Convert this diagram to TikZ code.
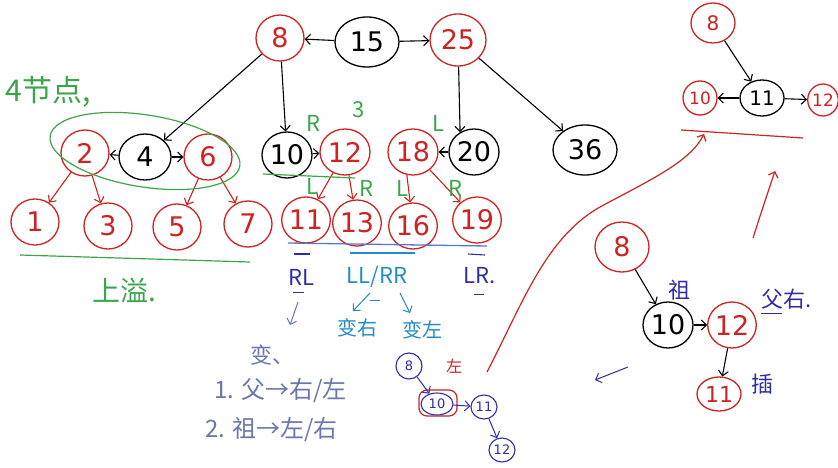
\documentclass[tikz,border=0pt]{standalone}
\usepackage{fontspec}
\setmainfont{DejaVu Sans}
\newfontfamily\cjk{Noto Sans CJK SC}
\usetikzlibrary{shapes.geometric,arrows.meta}
\definecolor{hred}{RGB}{205,35,35}
\definecolor{hgreen}{RGB}{60,165,75}
\definecolor{hblue}{RGB}{45,45,165}
\definecolor{hlblue}{RGB}{35,140,200}
\definecolor{hgray}{RGB}{105,120,170}
\definecolor{hline}{RGB}{90,120,190}
\begin{document}
\begin{tikzpicture}[x=1pt,y=-1pt,
  nd/.style={ellipse, line width=1.3pt, inner sep=0pt, minimum width=48pt, minimum height=46pt, font=\fontsize{27}{27}\selectfont},
  rn/.style={nd, draw=hred, text=hred},
  bn/.style={nd, draw=black, text=black},
  sn/.style={ellipse, draw=hblue, text=hblue, line width=1.1pt, inner sep=0pt, minimum width=26pt, minimum height=24pt, font=\fontsize{13}{13}\selectfont},
  arr/.style={-{Straight Barb[length=5pt,width=10pt]}, line width=1.1pt},
  lbl/.style={inner sep=0pt, font=\cjk\fontsize{22}{22}\selectfont}]
\useasboundingbox (0,0) rectangle (838,468);
\fill[white] (0,0) rectangle (838,468);

% main tree
\node[bn, minimum width=64pt, minimum height=50pt] (n15) at (367,42) {15};
\node[rn] (n8) at (280,38) {8};
\node[rn, minimum width=56pt, minimum height=52pt] (n25) at (458,40) {25};
\node[bn, minimum width=64pt, minimum height=50pt] (n36) at (585,150) {36};
\node[bn, minimum width=52pt] (n4) at (145,157) {4};
\node[rn] (n2) at (85,153) {2};
\node[rn] (n6) at (208,157) {6};
\node[rn] (n1) at (35,222) {1};
\node[rn] (n3) at (108,226) {3};
\node[rn] (n5) at (177,227) {5};
\node[rn] (n7) at (248,224) {7};
\node[bn, minimum width=50pt] (n10) at (287,155) {10};
\node[rn, minimum width=50pt] (n12) at (345,152) {12};
\node[rn, minimum width=50pt] (n18) at (413,152) {18};
\node[bn, minimum width=50pt] (n20) at (474,152) {20};
\node[rn] (n11) at (306,220) {11};
\node[rn] (n13) at (357,223) {13};
\node[rn] (n16) at (413,226) {16};
\node[rn] (n19) at (477,220) {19};

\draw[arr] (n15) -- (n8);
\draw[arr] (n15) -- (n25);
\draw[arr] (n8) -- (n4);
\draw[arr] (n8) -- (n10);
\draw[arr] (n25) -- (n20.125);
\draw[arr] (n25) -- (n36);
\draw[arr] (n4) -- (n2);
\draw[arr] (n4) -- (n6);
\draw[arr] (n10) -- (n12);
\draw[arr] (n20) -- (n18);
\draw[arr, hred] (n2) -- (n1);
\draw[arr, hred] (n2) -- (n3);
\draw[arr, hred] (n6) -- (n5);
\draw[arr, hred] (n6) -- (n7);
\draw[arr, hred] (n12) -- (n11);
\draw[arr, hred] (n12) -- (n13);
\draw[arr, hred] (n18.255) -- (n16);
\draw[arr, hred] (n18) -- (n19);

% green annotations
\node[draw=hgreen, line width=1.2pt, ellipse, minimum width=192pt, minimum height=72pt, rotate=-9] (grp) at (145,151) {};
\node[lbl, text=hgreen, font=\cjk\fontsize{30}{30}\selectfont] (t4) at (48,92) {4节点,};
\node[lbl, text=hgreen, font=\cjk\fontsize{28}{28}\selectfont] (tup) at (124,290) {上溢.};
\coordinate (g1) at (20,255); \coordinate (g2) at (250,262);
\draw[hgreen, line width=1.2pt] (g1) -- (g2);
\coordinate (g3) at (263,174); \coordinate (g4) at (355,178);
\draw[hgreen, line width=1.2pt] (g3) -- (g4);
\node[lbl, text=hgreen] (tR1) at (313,123) {R};
\node[lbl, text=hgreen] (t3) at (359,110) {3};
\node[lbl, text=hgreen] (tL1) at (438,123) {L};
\node[lbl, text=hgreen] (tL2) at (312,186) {L};
\node[lbl, text=hgreen] (tR2) at (366,188) {R};
\node[lbl, text=hgreen] (tL3) at (402,188) {L};
\node[lbl, text=hgreen] (tR3) at (455,188) {R};

% blue lines and labels
\coordinate (u1) at (288,243); \coordinate (u2) at (487,246);
\draw[hline, line width=1.3pt] (u1) -- (u2);
\coordinate (u3) at (350,253); \coordinate (u4) at (415,253);
\draw[hlblue, line width=1.5pt] (u3) -- (u4);
\coordinate (u5) at (294,254); \coordinate (u6) at (310,254);
\draw[hblue, line width=1.1pt] (u5) -- (u6);
\coordinate (u7) at (468,254); \coordinate (u8) at (485,255);
\draw[hblue, line width=1.1pt] (u7) -- (u8);
\node[lbl, text=hblue] (tRL) at (301,277) {RL};
\node[lbl, text=hlblue] (tLL) at (377,277) {LL/RR};
\node[lbl, text=hblue] (tLR) at (480,276) {LR.};
\coordinate (u9) at (293,292); \coordinate (u10) at (304,292);
\draw[hblue, line width=1pt] (u9) -- (u10);
\coordinate (u11) at (474,294); \coordinate (u12) at (484,294);
\draw[hblue, line width=1pt] (u11) -- (u12);
\coordinate (a1) at (298,302); \coordinate (a2) at (290,325);
\draw[arr, hgray, line width=1pt] (a1) -- (a2);
\coordinate (a3) at (370,293); \coordinate (a4) at (353,311);
\draw[arr, hlblue, line width=1pt] (a3) -- (a4);
\coordinate (a5) at (400,293); \coordinate (a6) at (410,313);
\draw[arr, hlblue, line width=1pt] (a5) -- (a6);
\coordinate (a7) at (370,300); \coordinate (a8) at (380,300);
\draw[hlblue, line width=1pt] (a7) -- (a8);
\node[lbl, text=hlblue, font=\cjk\fontsize{20}{20}\selectfont] (tbr) at (357,328) {变右};
\node[lbl, text=hlblue, font=\cjk\fontsize{20}{20}\selectfont] (tbl) at (422,330) {变左};
\node[lbl, text=hgray, anchor=west] (tb) at (250,355) {变、};
\node[lbl, text=hgray, anchor=west, font=\cjk\fontsize{24}{24}\selectfont] (r1) at (214,391) {1. 父→右/左};
\node[lbl, text=hgray, anchor=west, font=\cjk\fontsize{24}{24}\selectfont] (r2) at (205,430) {2. 祖→左/右};

% small blue tree
\node[sn, minimum width=26pt, minimum height=26pt] (b8) at (409,366) {8};
\node[sn, minimum width=32pt, minimum height=22pt] (b10) at (437,404) {10};
\node[draw=hred, line width=1.2pt, rounded corners=8pt, minimum width=38pt, minimum height=26pt] (b10r) at (438,403) {};
\node[sn] (b11) at (484,407) {11};
\node[sn] (b12) at (502,450) {12};
\node[lbl, text=hred, font=\cjk\fontsize{16}{16}\selectfont] (tz) at (454,366) {左};
\draw[arr, hblue, line width=1pt] (b8) -- (b10);
\draw[arr, hblue, line width=1pt] (b10) -- (b11);
\draw[arr, hblue, line width=1pt] (b11) -- (b12);

% red connecting strokes
\coordinate (c1) at (487,372);
\coordinate (c2) at (704,134);
\draw[arr, hred, line width=1.2pt] (c1) .. controls (522,305) and (545,238) .. (600,207) .. controls (650,180) and (690,162) .. (c2);
\coordinate (c3) at (681,130); \coordinate (c4) at (803,138);
\draw[hred, line width=1.2pt] (c3) -- (c4);
\coordinate (c5) at (753,238); \coordinate (c6) at (775,171);
\draw[arr, hred, line width=1.2pt] (c5) .. controls (762,210) .. (c6);
\coordinate (c7) at (628,367); \coordinate (c8) at (595,380);
\draw[arr, hblue, line width=1pt] (c7) -- (c8);

% right tree
\node[rn, minimum width=54pt, minimum height=50pt] (r8) at (622,247) {8};
\node[bn, minimum width=50pt, minimum height=46pt] (r10) at (668,325) {10};
\node[rn, minimum width=46pt, minimum height=46pt] (r12) at (732,325) {12};
\node[rn, minimum width=44pt, minimum height=34pt, font=\fontsize{22}{22}\selectfont] (r11) at (719,394) {11};
\draw[arr] (r8) -- (r10);
\draw[arr] (r10) -- (r12);
\draw[arr] (r12) -- (r11);
\node[lbl, text=hblue] (tzu) at (679,290) {祖};
\node[lbl, text=hblue] (tfu) at (787,299) {父右.};
\coordinate (c9) at (761,313); \coordinate (c10) at (782,313);
\draw[hblue, line width=1pt] (c9) -- (c10);
\node[lbl, text=hblue] (tcha) at (762,384) {插};

% top right tree
\node[rn, minimum width=44pt, minimum height=40pt, font=\fontsize{20}{20}\selectfont] (t8) at (713,23) {8};
\node[bn, minimum width=44pt, minimum height=36pt, font=\fontsize{20}{20}\selectfont] (t11) at (762,98) {11};
\node[rn, minimum width=34pt, minimum height=34pt, font=\fontsize{17}{17}\selectfont] (t10) at (700,98) {10};
\node[rn, minimum width=30pt, minimum height=32pt, font=\fontsize{17}{17}\selectfont] (t12) at (823,100) {12};
\draw[arr] (t8) -- (t11);
\draw[arr] (t11) -- (t10);
\draw[arr] (t11) -- (t12);
\end{tikzpicture}
\end{document}
